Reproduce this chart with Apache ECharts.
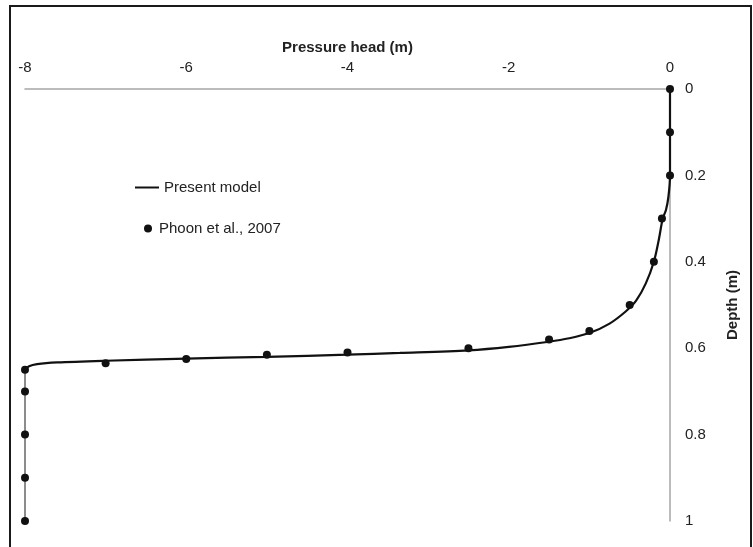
<!DOCTYPE html>
<html>
<head>
<meta charset="utf-8">
<script src="https://cdn.jsdelivr.net/npm/echarts@6/dist/echarts.min.js"></script>
<style>
  html, body { margin: 0; padding: 0; background: #fff; }
  #chart { width: 753px; height: 547px; }
</style>
</head>
<body>
<div id="chart"></div>
<script>
// Pressure head axis ticks (m) and depth axis ticks (m)
const pressureTicks = [-8, -6, -4, -2, 0];
const depthTicks = [0, 0.2, 0.4, 0.6, 0.8, 1];

// Present model: pressure head (m) vs depth (m)
const modelHead  = [0, 0, 0, -0.02, -0.05, -0.09, -0.14, -0.2, -0.3, -0.42, -0.55, -0.75, -1.0, -1.25, -1.5, -2.0, -2.5, -3.35, -4, -5, -6, -7, -7.6, -7.85, -7.95, -8];
const modelDepth = [0, 0.1, 0.2, 0.25, 0.28, 0.3, 0.35, 0.4, 0.45, 0.49, 0.515, 0.543, 0.565, 0.577, 0.585, 0.597, 0.605, 0.611, 0.615, 0.62, 0.624, 0.629, 0.633, 0.637, 0.642, 0.65];

// Saturated zone below the wetting front
const tailHead  = [-8, -8];
const tailDepth = [0.65, 1];

// Phoon et al., 2007 measurements
const phoonHead  = [0, 0, 0, -0.1, -0.2, -0.5, -1.0, -1.5, -2.5, -4, -5, -6, -7, -8, -8, -8, -8, -8];
const phoonDepth = [0, 0.1, 0.2, 0.3, 0.4, 0.5, 0.56, 0.58, 0.60, 0.61, 0.615, 0.625, 0.635, 0.65, 0.7, 0.8, 0.9, 1.0];

const zip = (a, b) => a.map((v, i) => [v, b[i]]);

const tickFont = { fontFamily: '"Liberation Sans", Arial, sans-serif', fontSize: 15, color: '#222' };
const nameFont = { fontFamily: '"Liberation Sans", Arial, sans-serif', fontSize: 15, fontWeight: 'bold', color: '#222' };
const legendFont = { fontFamily: '"Liberation Sans", Arial, sans-serif', fontSize: 15, color: '#222' };

const chart = echarts.init(document.getElementById('chart'), null, { renderer: 'canvas' });

chart.setOption({
  animation: false,
  backgroundColor: '#fff',
  grid: { left: 25, right: 83, top: 89, bottom: 26, containLabel: false },
  xAxis: {
    type: 'value',
    position: 'top',
    min: pressureTicks[0],
    max: pressureTicks[pressureTicks.length - 1],
    interval: 2,
    name: 'Pressure head (m)',
    nameLocation: 'middle',
    nameGap: 34,
    nameTextStyle: nameFont,
    axisLine: { show: true, onZero: false, lineStyle: { color: '#a6a6a6', width: 1.5 } },
    axisTick: { show: false },
    splitLine: { show: false },
    axisLabel: Object.assign({ margin: 14 }, tickFont)
  },
  yAxis: {
    type: 'value',
    position: 'right',
    inverse: true,
    min: depthTicks[0],
    max: depthTicks[depthTicks.length - 1],
    interval: 0.2,
    name: 'Depth (m)',
    nameLocation: 'middle',
    nameGap: 55,
    nameRotate: 90,
    nameTextStyle: nameFont,
    axisLine: { show: true, onZero: false, lineStyle: { color: '#a6a6a6', width: 1.5 } },
    axisTick: { show: false },
    splitLine: { show: false },
    axisLabel: Object.assign({ margin: 15 }, tickFont)
  },
  legend: [
    {
      data: [{ name: 'Present model', icon: 'rect' }],
      left: 135, top: 180,
      padding: 0,
      itemWidth: 24, itemHeight: 2,
      textStyle: legendFont
    },
    {
      data: [{ name: 'Phoon et al., 2007', icon: 'circle' }],
      left: 144, top: 221,
      padding: 0,
      itemWidth: 12, itemHeight: 8,
      textStyle: legendFont
    }
  ],
  series: [
    {
      name: 'Saturated zone',
      type: 'line',
      data: zip(tailHead, tailDepth),
      showSymbol: false,
      lineStyle: { color: '#8c8c8c', width: 2 },
      itemStyle: { color: '#8c8c8c' },
      z: 2
    },
    {
      name: 'Present model',
      type: 'line',
      data: zip(modelHead, modelDepth),
      smooth: 0.3,
      showSymbol: false,
      lineStyle: { color: '#111', width: 2.2 },
      itemStyle: { color: '#111' },
      z: 3
    },
    {
      name: 'Phoon et al., 2007',
      type: 'scatter',
      data: zip(phoonHead, phoonDepth),
      symbol: 'circle',
      symbolSize: 8,
      itemStyle: { color: '#111', opacity: 1 },
      z: 4
    }
  ],
  graphic: [
    {
      type: 'rect',
      shape: { x: 10, y: 6, width: 741, height: 600 },
      style: { fill: 'none', stroke: '#1a1a1a', lineWidth: 2 },
      silent: true,
      z: 10
    }
  ]
});
</script>
</body>
</html>
